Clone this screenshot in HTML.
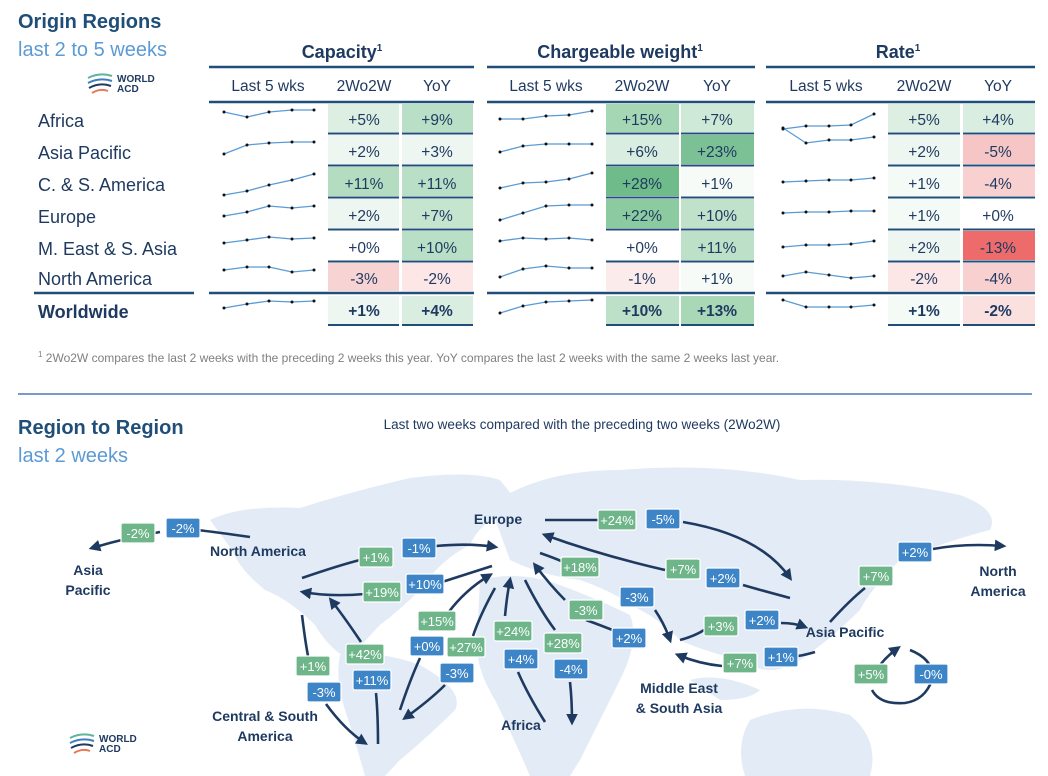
<!DOCTYPE html>
<html><head><meta charset="utf-8"><style>
html,body{margin:0;padding:0;background:#fff;}
svg{display:block;font-family:"Liberation Sans",sans-serif;}
.rn{font-size:18px;fill:#1f3a60;}
.cv{font-size:15.5px;fill:#1f3a60;text-anchor:middle;}
.hd{font-size:15.5px;fill:#1f3a60;text-anchor:middle;}
.gh{font-size:18px;font-weight:bold;fill:#1f3a60;text-anchor:middle;}
.sp{fill:none;stroke:#5b9bd5;stroke-width:1.3;}
.lb{font-size:14px;font-weight:bold;fill:#1f3a60;text-anchor:middle;}
.bx{font-size:13px;fill:#fff;text-anchor:middle;}
.ar{fill:none;stroke:#1f3a60;stroke-width:2.6;}
</style></head><body>
<svg width="1048" height="776" viewBox="0 0 1048 776" xmlns="http://www.w3.org/2000/svg">
<defs>
<marker id="ah" viewBox="0 0 10 10" refX="7" refY="5" markerWidth="4.5" markerHeight="4.5" orient="auto"><path d="M0,0 L10,5 L0,10 z" fill="#1f3a60"/></marker>
</defs>
<text x="18" y="28" font-size="20" font-weight="bold" fill="#1f4e79">Origin Regions</text>
<text x="18" y="56" font-size="20" fill="#5b9bd5">last 2 to 5 weeks</text>
<g transform="translate(88,70)">
<path d="M0,8 Q12,2 24,6" stroke="#5fb59b" stroke-width="2" fill="none"/>
<path d="M0,13 Q12,7 24,11" stroke="#3d7fc1" stroke-width="2" fill="none"/>
<path d="M1,18 Q12,12 23,16" stroke="#1f3a60" stroke-width="2" fill="none"/>
<path d="M4,23 Q12,18 20,21" stroke="#e8785a" stroke-width="2" fill="none"/>
<text x="29" y="12" font-size="10" font-weight="bold" fill="#1f3a60">WORLD</text>
<text x="29" y="22" font-size="10" font-weight="bold" fill="#1f3a60">ACD</text>
</g>
<text x="342" y="58" class="gh">Capacity<tspan font-size="10" dy="-7">1</tspan></text>
<text x="620" y="58" class="gh">Chargeable weight<tspan font-size="10" dy="-7">1</tspan></text>
<text x="898" y="58" class="gh">Rate<tspan font-size="10" dy="-7">1</tspan></text>
<g stroke="#1f4e79" stroke-width="2.5">
<line x1="209" y1="67" x2="474" y2="67"/><line x1="487" y1="67" x2="755" y2="67"/><line x1="766" y1="67" x2="1035" y2="67"/>
<line x1="209" y1="102" x2="474" y2="102"/><line x1="487" y1="102" x2="755" y2="102"/><line x1="766" y1="102" x2="1035" y2="102"/>
<line x1="34" y1="293" x2="194" y2="293"/>
<line x1="209" y1="293" x2="474" y2="293"/><line x1="487" y1="293" x2="755" y2="293"/><line x1="766" y1="293" x2="1035" y2="293"/>
</g>
<g class="hd">
<text x="268" y="91">Last 5 wks</text><text x="364" y="91">2Wo2W</text><text x="437" y="91">YoY</text>
<text x="546" y="91">Last 5 wks</text><text x="642" y="91">2Wo2W</text><text x="717" y="91">YoY</text>
<text x="826" y="91">Last 5 wks</text><text x="924" y="91">2Wo2W</text><text x="998" y="91">YoY</text>
</g>
<g class="rn">
<text x="38" y="127">Africa</text><text x="38" y="159">Asia Pacific</text><text x="38" y="191">C. &amp; S. America</text>
<text x="38" y="223">Europe</text><text x="38" y="255">M. East &amp; S. Asia</text><text x="38" y="285">North America</text>
<text x="38" y="318" font-weight="bold">Worldwide</text>
</g>
<g id="cells">
<rect x="328" y="104" width="71" height="28" fill="#dcefe2"/><rect x="402" y="104" width="71" height="28" fill="#b9e0c6"/>
<rect x="328" y="135" width="71" height="29" fill="#eef6f1"/><rect x="402" y="135" width="71" height="29" fill="#eef6f1"/>
<rect x="328" y="167" width="71" height="29" fill="#b4dcc1"/><rect x="402" y="167" width="71" height="29" fill="#b9e0c6"/>
<rect x="328" y="199" width="71" height="29" fill="#eef6f1"/><rect x="402" y="199" width="71" height="29" fill="#c5e5cf"/>
<rect x="328" y="231" width="71" height="29" fill="#ffffff"/><rect x="402" y="231" width="71" height="29" fill="#b9e0c6"/>
<rect x="328" y="263" width="71" height="28" fill="#f8d3d3"/><rect x="402" y="263" width="71" height="28" fill="#fce6e6"/>
<rect x="328" y="296" width="71" height="28" fill="#eef6f1"/><rect x="402" y="296" width="71" height="28" fill="#d9eee0"/>
<rect x="606" y="104" width="73" height="28" fill="#a5d7b4"/><rect x="681" y="104" width="73" height="28" fill="#cfe9d7"/>
<rect x="606" y="135" width="73" height="29" fill="#d9eee0"/><rect x="681" y="135" width="73" height="29" fill="#7cc196"/>
<rect x="606" y="167" width="73" height="29" fill="#6fbb8a"/><rect x="681" y="167" width="73" height="29" fill="#f6fbf8"/>
<rect x="606" y="199" width="73" height="29" fill="#8ccb9f"/><rect x="681" y="199" width="73" height="29" fill="#c0e2ca"/>
<rect x="606" y="231" width="73" height="29" fill="#ffffff"/><rect x="681" y="231" width="73" height="29" fill="#bde1c8"/>
<rect x="606" y="263" width="73" height="28" fill="#fcebeb"/><rect x="681" y="263" width="73" height="28" fill="#f6fbf8"/>
<rect x="606" y="296" width="73" height="28" fill="#bde1c8"/><rect x="681" y="296" width="73" height="28" fill="#a9d8b7"/>
<rect x="888" y="104" width="72" height="28" fill="#dcefe2"/><rect x="963" y="104" width="72" height="28" fill="#d9eee0"/>
<rect x="888" y="135" width="72" height="29" fill="#eef6f1"/><rect x="963" y="135" width="72" height="29" fill="#f6c6c6"/>
<rect x="888" y="167" width="72" height="29" fill="#f4faf6"/><rect x="963" y="167" width="72" height="29" fill="#f9d0d0"/>
<rect x="888" y="199" width="72" height="29" fill="#f4faf6"/><rect x="963" y="199" width="72" height="29" fill="#ffffff"/>
<rect x="888" y="231" width="72" height="29" fill="#eef6f1"/><rect x="963" y="231" width="72" height="29" fill="#ee6b6b"/>
<rect x="888" y="263" width="72" height="28" fill="#fce6e6"/><rect x="963" y="263" width="72" height="28" fill="#f9d0d0"/>
<rect x="888" y="296" width="72" height="28" fill="#f4faf6"/><rect x="963" y="296" width="72" height="28" fill="#fbe0e0"/>
</g>
<g stroke="#1f4e79" stroke-width="2">
<path d="M328,133.5h71M402,133.5h71M328,165.5h71M402,165.5h71M328,197.5h71M402,197.5h71M328,229.5h71M402,229.5h71M328,261.5h71M402,261.5h71M328,325h71M402,325h71"/>
<path d="M606,133.5h73M681,133.5h73M606,165.5h73M681,165.5h73M606,197.5h73M681,197.5h73M606,229.5h73M681,229.5h73M606,261.5h73M681,261.5h73M606,325h73M681,325h73"/>
<path d="M888,133.5h72M963,133.5h72M888,165.5h72M963,165.5h72M888,197.5h72M963,197.5h72M888,229.5h72M963,229.5h72M888,261.5h72M963,261.5h72M888,325h72M963,325h72"/>
</g>
<g class="cv">
<text x="364" y="125">+5%</text><text x="437" y="125">+9%</text>
<text x="364" y="157">+2%</text><text x="437" y="157">+3%</text>
<text x="364" y="189">+11%</text><text x="437" y="189">+11%</text>
<text x="364" y="221">+2%</text><text x="437" y="221">+7%</text>
<text x="364" y="253">+0%</text><text x="437" y="253">+10%</text>
<text x="364" y="284">-3%</text><text x="437" y="284">-2%</text>
<text x="364" y="316" font-weight="bold">+1%</text><text x="437" y="316" font-weight="bold">+4%</text>
<text x="642" y="125">+15%</text><text x="717" y="125">+7%</text>
<text x="642" y="157">+6%</text><text x="717" y="157">+23%</text>
<text x="642" y="189">+28%</text><text x="717" y="189">+1%</text>
<text x="642" y="221">+22%</text><text x="717" y="221">+10%</text>
<text x="642" y="253">+0%</text><text x="717" y="253">+11%</text>
<text x="642" y="284">-1%</text><text x="717" y="284">+1%</text>
<text x="642" y="316" font-weight="bold">+10%</text><text x="717" y="316" font-weight="bold">+13%</text>
<text x="924" y="125">+5%</text><text x="998" y="125">+4%</text>
<text x="924" y="157">+2%</text><text x="998" y="157">-5%</text>
<text x="924" y="189">+1%</text><text x="998" y="189">-4%</text>
<text x="924" y="221">+1%</text><text x="998" y="221">+0%</text>
<text x="924" y="253">+2%</text><text x="998" y="253">-13%</text>
<text x="924" y="284">-2%</text><text x="998" y="284">-4%</text>
<text x="924" y="316" font-weight="bold">+1%</text><text x="998" y="316" font-weight="bold">-2%</text>
</g>
<g class="sp">
<polyline points="224,112 247,117 269,112 292,110 314,110"/>
<polyline points="224,154 247,145 269,143 292,142 314,142"/>
<polyline points="224,195 247,191 269,185 292,180 314,174"/>
<polyline points="224,216 247,212 269,206 292,208 314,206"/>
<polyline points="224,243 247,240 269,237 292,239 314,238"/>
<polyline points="224,270 247,267 269,267 292,272 314,270"/>
<polyline points="224,308 247,304 269,301 292,302 314,301"/>
<polyline points="500,119 523,119 546,116 569,115 592,111"/>
<polyline points="500,152 523,146 546,144 569,144 592,144"/>
<polyline points="500,188 523,183 546,182 569,179 592,173"/>
<polyline points="500,220 523,213 546,206 569,205 592,205"/>
<polyline points="500,241 523,238 546,239 569,238 592,240"/>
<polyline points="500,277 523,269 546,266 569,268 592,268"/>
<polyline points="500,313 523,306 546,302 569,301 592,300"/>
<polyline points="783,129 806,126 829,126 851,125 874,114"/>
<polyline points="783,128 806,143 829,140 851,140 874,137"/>
<polyline points="783,182 806,181 829,180 851,180 874,178"/>
<polyline points="783,213 806,212 829,212 851,211 874,211"/>
<polyline points="783,247 806,245 829,245 851,244 874,241"/>
<polyline points="783,276 806,272 829,275 851,278 874,276"/>
<polyline points="783,300 806,307 829,307 851,307 874,305"/>
</g>
<g fill="#111" id="dots"></g>
<script>
var g=document.getElementById('dots');
document.querySelectorAll('.sp polyline').forEach(function(p){p.getAttribute('points').trim().split(/\s+/).forEach(function(pt){var a=pt.split(',');var c=document.createElementNS('http://www.w3.org/2000/svg','circle');c.setAttribute('cx',a[0]);c.setAttribute('cy',a[1]);c.setAttribute('r','1.5');g.appendChild(c);});});
</script>
<text x="38" y="362" font-size="12" fill="#7f7f7f"><tspan font-size="8" dy="-5">1</tspan><tspan dy="5"> 2Wo2W compares the last 2 weeks with the preceding 2 weeks this year. YoY compares the last 2 weeks with the same 2 weeks last year.</tspan></text>
<line x1="18" y1="394" x2="1032" y2="394" stroke="#4a7ab0" stroke-width="1.5"/>
<text x="18" y="434" font-size="20" font-weight="bold" fill="#1f4e79">Region to Region</text>
<text x="18" y="462" font-size="20" fill="#5b9bd5">last 2 weeks</text>
<text x="582" y="429" font-size="13.5" fill="#1f3a60" text-anchor="middle">Last two weeks compared with the preceding two weeks (2Wo2W)</text>
<g fill="#e3ecf6">
<path d="M210,520 Q240,505 300,508 Q350,492 410,478 Q470,470 500,480 L520,505 Q480,520 470,545 Q440,560 420,590 Q400,610 380,625 Q365,640 350,660 Q330,650 315,625 Q290,600 265,590 Q240,570 232,550 Z"/>
<path d="M340,655 Q380,650 420,665 Q465,690 455,710 Q430,735 400,760 L385,776 L365,776 Q355,740 345,710 Q335,680 340,655 Z"/>
<path d="M490,505 Q540,470 620,470 Q720,462 800,480 Q880,478 960,495 Q1000,510 990,530 Q950,540 900,560 Q870,590 860,610 Q830,640 800,660 Q770,680 740,660 Q700,650 680,640 Q660,620 640,610 Q610,590 580,580 Q540,575 510,560 Z"/>
<path d="M480,580 Q520,570 560,585 Q600,600 630,615 Q640,640 620,680 Q600,720 580,760 L570,776 L530,776 Q510,730 495,700 Q470,660 478,620 Z"/>
<path d="M750,720 Q800,700 850,715 Q880,740 870,776 L745,776 Q735,745 750,720 Z"/>
<path d="M690,680 Q720,672 760,690 Q750,700 720,700 Z"/>
</g>
<g class="ar">
<path d="M250,537 Q215,532 197,530"/>
<path d="M160,532 Q125,538 92,548" marker-end="url(#ah)"/>
<path d="M302,578 Q340,565 360,560"/>
<path d="M436,546 Q470,543 495,547" marker-end="url(#ah)"/>
<path d="M492,566 Q470,573 442,582"/>
<path d="M365,594 Q330,597 303,592" marker-end="url(#ah)"/>
<path d="M302,615 Q305,640 308,656"/>
<path d="M326,704 Q345,730 365,743" marker-end="url(#ah)"/>
<path d="M378,744 Q378,715 376,693"/>
<path d="M361,642 Q345,618 331,600" marker-end="url(#ah)"/>
<path d="M400,710 Q410,680 420,658"/>
<path d="M448,613 Q465,590 490,575" marker-end="url(#ah)"/>
<path d="M495,588 Q480,615 473,636"/>
<path d="M445,685 Q430,700 405,718" marker-end="url(#ah)"/>
<path d="M505,616 Q507,595 510,580" marker-end="url(#ah)"/>
<path d="M518,672 Q528,695 545,722"/>
<path d="M525,580 Q540,610 555,630"/>
<path d="M570,682 Q572,700 572,722" marker-end="url(#ah)"/>
<path d="M540,553 Q560,560 565,563"/>
<path d="M655,610 Q665,625 670,640" marker-end="url(#ah)"/>
<path d="M620,633 Q600,625 586,620"/>
<path d="M565,600 Q550,585 535,565" marker-end="url(#ah)"/>
<path d="M545,520 L598,520"/>
<path d="M683,522 Q760,535 790,578" marker-end="url(#ah)"/>
<path d="M790,598 Q760,590 743,585"/>
<path d="M665,570 Q600,555 545,535" marker-end="url(#ah)"/>
<path d="M680,640 Q695,636 704,630"/>
<path d="M781,623 Q795,623 805,627" marker-end="url(#ah)"/>
<path d="M815,652 Q805,655 798,656"/>
<path d="M722,666 Q700,664 678,655" marker-end="url(#ah)"/>
<path d="M830,622 Q850,600 865,588"/>
<path d="M933,549 Q965,543 1003,546" marker-end="url(#ah)"/>
<path d="M880,665 Q888,655 898,648" marker-end="url(#ah)"/>
<path d="M910,650 Q935,660 932,680 Q925,700 905,703 Q880,705 872,690"/>
</g>
<g class="lb">
<text x="88" y="575">Asia</text><text x="88" y="595">Pacific</text>
<text x="258" y="556">North America</text>
<text x="498" y="524">Europe</text>
<text x="265" y="721">Central &amp; South</text><text x="265" y="741">America</text>
<text x="521" y="730">Africa</text>
<text x="679" y="693">Middle East</text><text x="679" y="713">&amp; South Asia</text>
<text x="845" y="637">Asia Pacific</text>
<text x="998" y="576">North</text><text x="998" y="596">America</text>
</g>
<g id="boxes"></g>
<script>
var B=[["-2%",138,533,"g"],["-2%",183,528,"b"],["+1%",376,557,"g"],["-1%",419,548,"b"],["+19%",382,592,"g"],["+10%",425,584,"b"],["+15%",437,621,"g"],["+0%",427,646,"b"],["+27%",466,647,"g"],["-3%",457,673,"b"],["+1%",313,666,"g"],["-3%",324,692,"b"],["+42%",365,654,"g"],["+11%",372,680,"b"],["+24%",513,631,"g"],["+4%",521,659,"b"],["+28%",563,643,"g"],["-4%",571,669,"b"],["+18%",580,567,"g"],["-3%",637,597,"b"],["-3%",586,610,"g"],["+2%",629,638,"b"],["+24%",617,520,"g"],["-5%",663,519,"b"],["+7%",683,569,"g"],["+2%",723,578,"b"],["+3%",721,626,"g"],["+2%",762,620,"b"],["+7%",740,663,"g"],["+1%",781,657,"b"],["+7%",876,576,"g"],["+2%",915,552,"b"],["+5%",871,674,"g"],["-0%",931,674,"b"]];
var bg=document.getElementById('boxes'),ns='http://www.w3.org/2000/svg';
B.forEach(function(b){var w=b[0].length>3?38:34;var r=document.createElementNS(ns,'rect');r.setAttribute('x',b[1]-w/2);r.setAttribute('y',b[2]-10);r.setAttribute('width',w);r.setAttribute('height',20);r.setAttribute('rx',2);r.setAttribute('fill',b[3]=='g'?'#6fb58a':'#3d85c6');r.setAttribute('stroke','#fff');r.setAttribute('stroke-width','1.2');bg.appendChild(r);var t=document.createElementNS(ns,'text');t.setAttribute('x',b[1]);t.setAttribute('y',b[2]+5);t.setAttribute('class','bx');t.textContent=b[0];bg.appendChild(t);});
</script>
<g transform="translate(70,730)">
<path d="M0,8 Q12,2 24,6" stroke="#5fb59b" stroke-width="2" fill="none"/>
<path d="M0,13 Q12,7 24,11" stroke="#3d7fc1" stroke-width="2" fill="none"/>
<path d="M1,18 Q12,12 23,16" stroke="#1f3a60" stroke-width="2" fill="none"/>
<path d="M4,23 Q12,18 20,21" stroke="#e8785a" stroke-width="2" fill="none"/>
<text x="29" y="12" font-size="10" font-weight="bold" fill="#1f3a60">WORLD</text>
<text x="29" y="22" font-size="10" font-weight="bold" fill="#1f3a60">ACD</text>
</g>
</svg>
</body></html>
